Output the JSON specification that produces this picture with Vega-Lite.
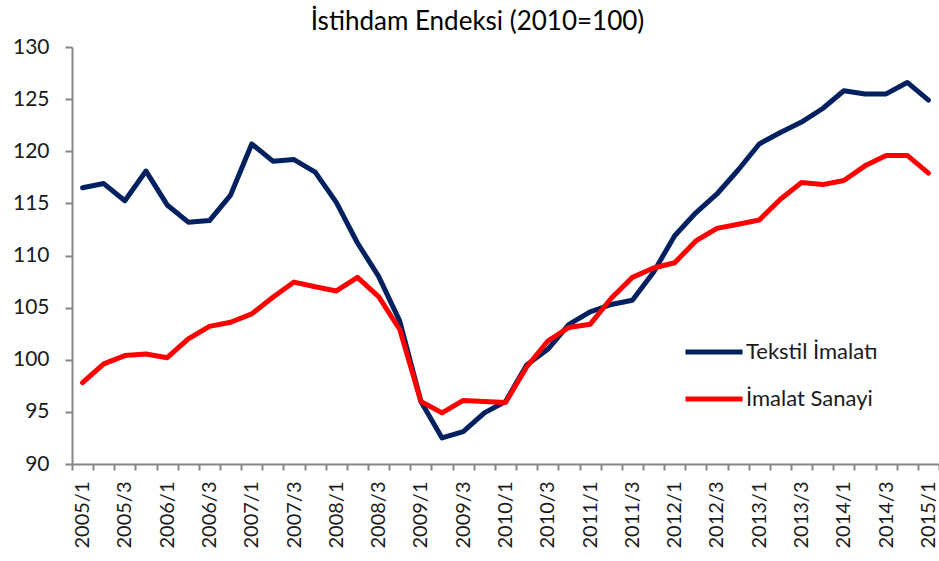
{
  "$schema": "https://vega.github.io/schema/vega-lite/v6.json",
  "width": 867,
  "height": 417,
  "autosize": {"type": "none"},
  "padding": {"left": 72, "top": 47, "right": 0, "bottom": 97},
  "background": "white",
  "title": {
    "text": "İstihdam Endeksi (2010=100)",
    "font": "Lato",
    "fontSize": 26,
    "fontWeight": "normal",
    "color": "#000000",
    "anchor": "middle",
    "dx": -28,
    "offset": 1
  },
  "data": {
    "values": [
      {"q": "2005/1", "t": 116.5, "m": 97.8},
      {"q": "2005/2", "t": 116.9, "m": 99.6},
      {"q": "2005/3", "t": 115.25, "m": 100.4},
      {"q": "2005/4", "t": 118.1, "m": 100.55},
      {"q": "2006/1", "t": 114.85, "m": 100.2},
      {"q": "2006/2", "t": 113.2, "m": 102.0},
      {"q": "2006/3", "t": 113.35, "m": 103.2},
      {"q": "2006/4", "t": 115.8, "m": 103.6},
      {"q": "2007/1", "t": 120.7, "m": 104.4},
      {"q": "2007/2", "t": 119.05, "m": 106.0},
      {"q": "2007/3", "t": 119.2, "m": 107.45},
      {"q": "2007/4", "t": 118.0, "m": 107.0},
      {"q": "2008/1", "t": 115.1, "m": 106.6},
      {"q": "2008/2", "t": 111.2, "m": 107.9},
      {"q": "2008/3", "t": 108.0, "m": 106.05},
      {"q": "2008/4", "t": 103.7, "m": 102.9},
      {"q": "2009/1", "t": 96.0, "m": 96.0},
      {"q": "2009/2", "t": 92.5, "m": 94.9},
      {"q": "2009/3", "t": 93.1, "m": 96.1},
      {"q": "2009/4", "t": 94.9, "m": 96.0},
      {"q": "2010/1", "t": 96.0, "m": 95.9},
      {"q": "2010/2", "t": 99.5, "m": 99.3},
      {"q": "2010/3", "t": 101.0, "m": 101.8},
      {"q": "2010/4", "t": 103.4, "m": 103.1},
      {"q": "2011/1", "t": 104.6, "m": 103.4},
      {"q": "2011/2", "t": 105.3, "m": 105.9},
      {"q": "2011/3", "t": 105.7, "m": 107.9},
      {"q": "2011/4", "t": 108.4, "m": 108.8},
      {"q": "2012/1", "t": 111.9, "m": 109.3},
      {"q": "2012/2", "t": 114.1, "m": 111.4},
      {"q": "2012/3", "t": 115.9, "m": 112.6},
      {"q": "2012/4", "t": 118.2, "m": 113.0},
      {"q": "2013/1", "t": 120.7, "m": 113.4},
      {"q": "2013/2", "t": 121.8, "m": 115.4},
      {"q": "2013/3", "t": 122.8, "m": 117.0},
      {"q": "2013/4", "t": 124.1, "m": 116.8},
      {"q": "2014/1", "t": 125.8, "m": 117.2},
      {"q": "2014/2", "t": 125.5, "m": 118.6},
      {"q": "2014/3", "t": 125.5, "m": 119.6},
      {"q": "2014/4", "t": 126.6, "m": 119.6},
      {"q": "2015/1", "t": 124.9, "m": 117.9}
    ]
  },
  "transform": [
    {"fold": ["t", "m"], "as": ["key", "value"]},
    {"lookup": "key", "from": {"data": {"values": [{"key": "t", "series": "Tekstil İmalatı", "ord": 0}, {"key": "m", "series": "İmalat Sanayi", "ord": 1}]}, "key": "key", "fields": ["series", "ord"]}}
  ],
  "mark": {"type": "line", "strokeWidth": 5, "strokeCap": "round", "strokeJoin": "round"},
  "encoding": {
    "x": {
      "field": "q",
      "type": "ordinal",
      "sort": null,
      "bandPosition": 0.5,
      "scale": {"type": "band", "paddingInner": 0, "paddingOuter": 0},
      "axis": {
        "title": null,
        "tickBand": "extent",
        "labelAngle": 270,
        "labelAlign": "right",
        "labelBaseline": "middle",
        "labelFont": "Lato",
        "labelFontSize": 20,
        "labelColor": "#1a1a1a",
        "labelPadding": 11,
        "labelOverlap": false,
        "labelExpr": "indexof(['1','3'], slice(datum.label, -1)) >= 0 ? datum.label : ''",
        "tickSize": 6,
        "tickColor": "#868686",
        "domainColor": "#868686",
        "domainWidth": 2,
        "tickWidth": 2,
        "grid": false
      }
    },
    "y": {
      "field": "value",
      "type": "quantitative",
      "scale": {"domain": [90, 130], "nice": false, "zero": false},
      "axis": {
        "title": null,
        "values": [90, 95, 100, 105, 110, 115, 120, 125, 130],
        "labelFont": "Lato",
        "labelFontSize": 21,
        "labelColor": "#1a1a1a",
        "labelPadding": 16,
        "tickSize": 7,
        "tickColor": "#868686",
        "domainColor": "#868686",
        "domainWidth": 2,
        "tickWidth": 2,
        "grid": false
      }
    },
    "color": {
      "field": "series",
      "type": "nominal",
      "scale": {"domain": ["Tekstil İmalatı", "İmalat Sanayi"], "range": ["#002060", "#FF0000"]},
      "legend": {
        "title": null,
        "orient": "none",
        "legendX": 611,
        "legendY": 295,
        "symbolType": "stroke",
        "symbolSize": 3249,
        "symbolStrokeWidth": 5,
        "clipHeight": 20,
        "rowPadding": 25,
        "labelFont": "Lato",
        "labelFontSize": 22,
        "labelColor": "#1a1a1a",
        "labelOffset": 1
      }
    },
    "order": {"field": "ord"}
  },
  "config": {"view": {"stroke": null}}
}
